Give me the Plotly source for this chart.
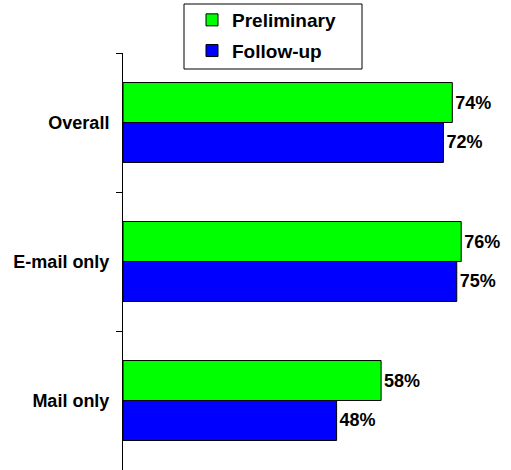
import plotly.graph_objects as go

categories = ["Overall", "E-mail only", "Mail only"]
preliminary = [74, 76, 58]
follow_up = [72, 75, 48]
series_names = ["Preliminary", "Follow-up"]
colors = ["#00FF00", "#0000FF"]

W, H = 511, 470
L, R, T, B = 123, 0, 53, 0
pw, ph = W - L - R, H - T - B

def px_x(px):
    return (px - L) / pw

def px_y(py):
    return (H - B - py) / ph

FONT = "Arial, 'Liberation Sans', sans-serif"

fig = go.Figure()
for name, vals, col in zip(series_names, [preliminary, follow_up], colors):
    fig.add_trace(go.Bar(
        y=categories, x=vals, name=name, orientation="h",
        marker=dict(color=col, line=dict(color="#000000", width=1)),
        text=[f"{v}%" for v in vals], textposition="outside",
        textfont=dict(family=FONT, size=18, color="#000000", weight="bold"),
        cliponaxis=False, constraintext="none", legendgroup=name,
        hoverinfo="skip",
    ))

fig.update_layout(
    width=W, height=H,
    margin=dict(l=L, r=R, t=T, b=B, pad=0),
    paper_bgcolor="white", plot_bgcolor="white",
    barmode="group", bargap=0.425, bargroupgap=0,
    showlegend=True,
    legend=dict(
        x=px_x(192), y=px_y(1), xanchor="left", yanchor="top",
        bgcolor="rgba(0,0,0,0)", borderwidth=0,
        font=dict(family=FONT, size=19, color="#000000", weight="bold"),
        traceorder="grouped", tracegroupgap=3,
    ),
    xaxis=dict(range=[0, pw / 4.45], visible=False, fixedrange=True),
    yaxis=dict(
        type="category", autorange="reversed", fixedrange=True,
        showline=True, linecolor="#000000", linewidth=1,
        ticks="outside", ticklen=6, tickcolor="#000000", tickwidth=1,
        tickson="boundaries", showgrid=False, zeroline=False,
        tickfont=dict(family=FONT, size=18, color="#000000", weight="bold"),
        ticklabelstandoff=9,
    ),
    shapes=[dict(type="rect", xref="paper", yref="paper",
                 x0=px_x(184), x1=px_x(362), y0=px_y(69), y1=px_y(4),
                 line=dict(color="#000000", width=1), fillcolor="rgba(0,0,0,0)",
                 layer="above")],
)

fig.write_html("out.html", config={"displayModeBar": False},
               post_script="document.body.style.margin='0';document.body.style.overflow='hidden';")
